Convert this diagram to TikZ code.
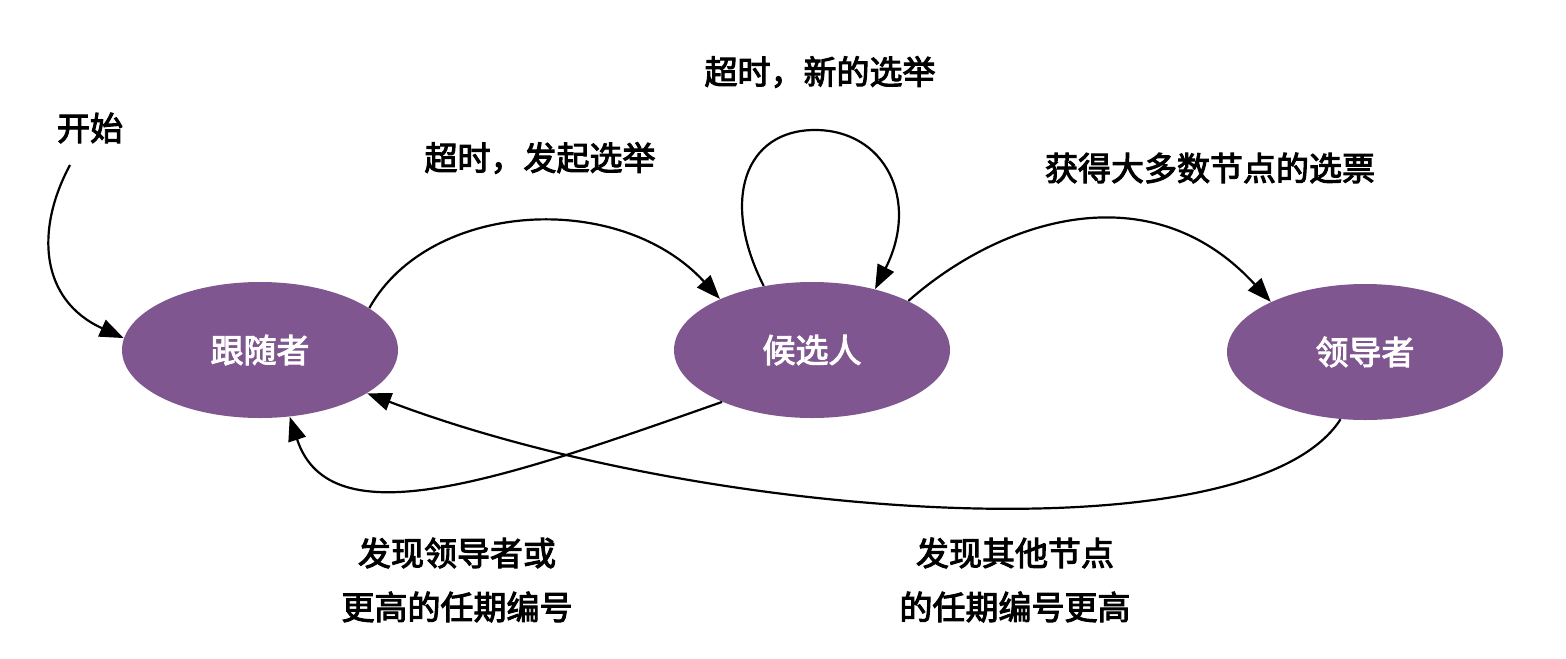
\documentclass[tikz,border=0pt]{standalone}
\usepackage{fontspec}
\setmainfont[AutoFakeBold=3]{Noto Sans CJK SC}
\usetikzlibrary{arrows.meta,shapes.geometric}
\definecolor{st}{HTML}{7F5690}
\begin{document}
\begin{tikzpicture}[x=0.5pt,y=-0.5pt,
  state/.style={ellipse,fill=st,minimum width=138pt,minimum height=68pt,inner sep=0pt,text=white,font=\fontsize{16.5}{18}\selectfont\bfseries},
  lbl/.style={font=\fontsize{16.5}{27}\selectfont\bfseries,align=center},
  edge/.style={draw,line width=1.1pt,-{Triangle[length=12pt,width=9pt]}}]
\useasboundingbox (0,0) rectangle (1566,658);
\node[state] (f) at (260,350) {跟随者};
\node[state] (c) at (812,350) {候选人};
\node[state] (l) at (1365,352) {领导者};
\node[lbl] (s) at (90,128) {开始};
\coordinate (s0) at (70,165);
\node[lbl] (t1) at (540,158) {超时，发起选举};
\node[lbl] (t2) at (820,72) {超时，新的选举};
\node[lbl] (t3) at (1210,168) {获得大多数节点的选票};
\node[lbl] (t4) at (457,580) {发现领导者或\\更高的任期编号};
\node[lbl] (t5) at (1015,580) {发现其他节点\\的任期编号更高};
\path[edge] (s0) .. controls (35,230) and (40,300) .. (f.175);
\path[edge] (f.21) .. controls (430,200) and (620,190) .. (c.151);
\path[edge] (c.127) .. controls (720,200) and (745,130) .. (815,130) .. controls (885,130) and (920,200) .. (c.44);
\path[edge] (c.27) .. controls (1000,220) and (1150,170) .. (l.152);
\path[edge] (c.210) .. controls (500,480) and (330,540) .. (f.294);
\path[edge] (l.250) .. controls (1250,560) and (700,520) .. (f.338);
\end{tikzpicture}
\end{document}
